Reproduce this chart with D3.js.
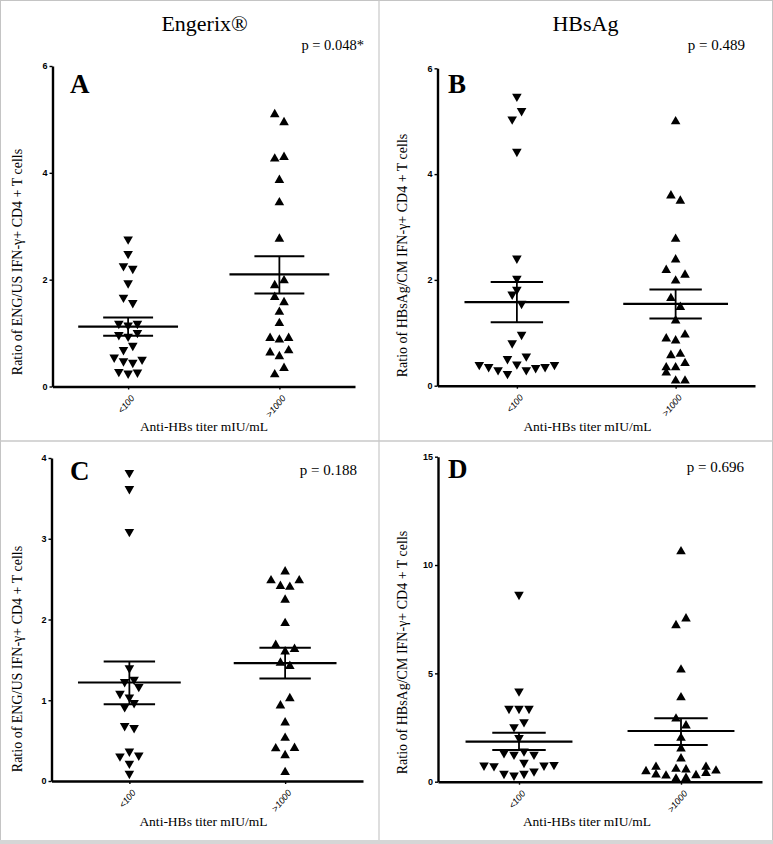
<!DOCTYPE html>
<html><head><meta charset="utf-8">
<script src="https://cdn.jsdelivr.net/npm/d3@7"></script>
<style>body{margin:0;background:#fff} svg{display:block}</style>
</head><body>
<svg id="c" width="773" height="844"></svg>
<script>
// ---------- DATA ----------
const categories = ["<100", ">1000"];
const titles = ["Engerix\u00ae", "HBsAg"];
const panelLetters = ["A", "B", "C", "D"];
const pValues = ["p = 0.048*", "p = 0.489", "p = 0.188", "p = 0.696"];
const yLabelENG = "Ratio of ENG/US IFN-\u03b3+ CD4 + T cells";
const yLabelHBs = "Ratio of HBsAg/CM IFN-\u03b3+ CD4 + T cells";
const xTitle = "Anti-HBs titer mIU/mL";

const ticksA = [0, 2, 4, 6];
const ticksB = [0, 2, 4, 6];
const ticksC = [0, 1, 2, 3, 4];
const ticksD = [0, 5, 10, 15];

// values grouped in rows of side-by-side points (null = empty slot)
const A_low  = [[2.73],[2.46],[2.23,2.18],[1.91],[1.64,1.54],[1.15,1.12,1.15],[0.94,0.91,0.98],[0.66,0.74],[0.52,0.45,0.42,0.48],[0.25,0.22,0.24]];
const A_high = [[5.12,4.97],[4.29,4.32],[3.89],[3.47],[2.79],[1.92,2.01],[1.70,1.60],[1.42],[1.21],[0.93,0.90,0.93],[0.66,0.59,0.70],[0.25,0.37]];
const B_low  = [[5.44],[5.01,5.17],[4.40],[2.38],[2.00],[1.79],[1.70,1.525],[0.78,0.94],[0.48,null,0.53],[0.37,0.33,0.27,0.20,0.38,0.27,0.31,0.33,0.37]];
const B_high = [[5.02],[3.62,3.52],[2.80],[2.41],[2.21,2.01,2.12],[1.68,1.51],[1.255],[0.915,0.877,0.99],[0.60,0.625],[0.37,0.37,0.45],[0.27,0.12,0.12]];
const C_low  = [[3.80],[3.60],[3.07],[1.38],[1.21,1.24],[1.065,1.02,1.15],[0.90,0.95],[0.665,0.64],[0.29,0.35,0.30],[0.20],[0.075]];
const C_high = [[2.61],[2.50,2.43,2.42,2.50],[2.26],[1.97],[1.70,1.62,1.65],[1.48,1.44],[0.95,1.04],[0.74],[0.55],[0.42,0.335,0.425],[0.125]];
const D_low  = [[8.57],[4.11],[3.31,3.31,3.31],[2.46,2.69],[1.96],[1.26,1.19,1.34,1.19],[0.69,0.66,null,null,0.82,null,0.69,0.72],[0.31,0.23,0.31,0.42]];
const D_high = [[10.69],[7.28,7.59],[5.23],[3.95],[2.97,2.65],[2.08],[1.59],[1.13],[0.54,0.74,null,0.65,0.62,null,0.74,0.57],[null,0.39,0.34,null,null,0.355,0.46,null],[0.20,0.23]];

// mean and SEM limits [<100, >1000]
const meanA = [1.12, 2.10],  semHiA = [1.29, 2.44], semLoA = [0.95, 1.74];
const meanB = [1.58, 1.545], semHiB = [1.96, 1.82], semLoB = [1.20, 1.27];
const meanC = [1.22, 1.46],  semHiC = [1.48, 1.65], semLoC = [0.95, 1.27];
const meanD = [1.85, 2.34],  semHiD = [2.26, 2.93], semLoD = [1.46, 1.69];

// ---------- LAYOUT ----------
const SERIF = "'Liberation Serif','Times New Roman',serif";
const SANS = "'Liberation Sans',Arial,sans-serif";

const panels = [
  {letter:panelLetters[0], p:pValues[0], ylab:yLabelENG, ticks:ticksA, groups:[A_low,A_high], mean:meanA, hi:semHiA, lo:semLoA,
   x0:52.5, x1:355, yTop:66, yBot:386.5, sp:9.3,
   title:titles[0], titlePos:[204.6,31], pPos:[364,50,14.5], letterPos:[70,92.7], ylabPos:[21.5,262], xtPos:[204,431]},
  {letter:panelLetters[1], p:pValues[1], ylab:yLabelHBs, ticks:ticksB, groups:[B_low,B_high], mean:meanB, hi:semHiB, lo:semLoB,
   x0:437.5, x1:755, yTop:68.3, yBot:385.7, sp:9.4,
   title:titles[1], titlePos:[585.5,31], pPos:[745,50,15], letterPos:[448,92.7], ylabPos:[407,255.5], xtPos:[587.5,431]},
  {letter:panelLetters[2], p:pValues[2], ylab:yLabelENG, ticks:ticksC, groups:[C_low,C_high], mean:meanC, hi:semHiC, lo:semLoC,
   x0:51.5, x1:363, yTop:458, yBot:781, sp:9.4,
   pPos:[357,475,15], letterPos:[70,480], ylabPos:[21.5,659], xtPos:[203.5,826]},
  {letter:panelLetters[3], p:pValues[3], ylab:yLabelHBs, ticks:ticksD, groups:[D_low,D_high], mean:meanD, hi:semHiD, lo:semLoD,
   x0:438, x1:762, yTop:456.7, yBot:781.7, sp:10,
   pPos:[744,472,15], letterPos:[448,478], ylabPos:[407,652.5], xtPos:[587,826]}
];

const svg = d3.select("#c");

// frame and dividers
svg.append("rect").attr("x",0.5).attr("y",0.5).attr("width",772).attr("height",843)
  .attr("fill","none").attr("stroke","#c4c4c4").attr("stroke-width",1);
svg.append("rect").attr("x",0).attr("y",840).attr("width",773).attr("height",4).attr("fill","#d6d6d6");
svg.append("line").attr("x1",379).attr("x2",379).attr("y1",0).attr("y2",840)
  .attr("stroke","#c8c8c8").attr("stroke-width",1.2);
svg.append("line").attr("x1",0).attr("x2",773).attr("y1",441).attr("y2",441)
  .attr("stroke","#c8c8c8").attr("stroke-width",1.6);

const TW = 9.6, TH = 8.4;
const upTri = `M0,${-TH/2}L${TW/2},${TH/2}L${-TW/2},${TH/2}Z`;
const downTri = `M${-TW/2},${-TH/2}L${TW/2},${-TH/2}L0,${TH/2}Z`;

panels.forEach(P => {
  const g = svg.append("g");
  const y = d3.scaleLinear().domain([0, d3.max(P.ticks)]).range([P.yBot, P.yTop]);
  const x = d3.scalePoint().domain(categories).range([P.x0, P.x1]).padding(0.5);
  const step = x.step();

  // y axis
  const ya = g.append("g").attr("transform",`translate(${P.x0},0)`)
    .call(d3.axisLeft(y).tickValues(P.ticks).tickFormat(d3.format("d")).tickSize(3).tickSizeOuter(0).tickPadding(2));
  ya.select(".domain").attr("stroke","#000").attr("stroke-width",2.4);
  ya.selectAll(".tick line").attr("stroke","#000").attr("stroke-width",1.4);
  ya.selectAll(".tick text").attr("font-family",SANS).attr("font-weight","bold").attr("font-size",9).attr("fill","#000");

  // x axis
  const xa = g.append("g").attr("transform",`translate(0,${P.yBot})`)
    .call(d3.axisBottom(x).tickSize(3).tickSizeOuter(0));
  xa.select(".domain").attr("stroke","#000").attr("stroke-width",2.6);
  xa.selectAll(".tick line").attr("stroke","#000").attr("stroke-width",1.4);
  xa.selectAll(".tick text").attr("font-family",SANS).attr("font-style","italic").attr("font-size",9).attr("fill","#000")
    .attr("x",0).attr("y",0).attr("dy","0.35em")
    .attr("transform","translate(4,10) rotate(-50)").style("text-anchor","end");

  // points
  P.groups.forEach((rows, gi) => {
    const cx = x(categories[gi]);
    const pts = [];
    rows.forEach(row => {
      const n = row.length;
      row.forEach((v, i) => { if (v !== null) pts.push({v, dx:(i-(n-1)/2)*P.sp}); });
    });
    g.append("g").selectAll("path").data(pts).join("path")
      .attr("d", gi === 0 ? downTri : upTri)
      .attr("transform", d => `translate(${cx + d.dx},${y(d.v)})`)
      .attr("fill","#000");

    // mean ± SEM
    const eb = g.append("g").attr("stroke","#000").attr("fill","none");
    eb.append("line").attr("x1",cx-0.33*step).attr("x2",cx+0.33*step)
      .attr("y1",y(P.mean[gi])).attr("y2",y(P.mean[gi])).attr("stroke-width",2.2);
    [P.hi[gi], P.lo[gi]].forEach(v => {
      eb.append("line").attr("x1",cx-0.165*step).attr("x2",cx+0.165*step)
        .attr("y1",y(v)).attr("y2",y(v)).attr("stroke-width",2);
    });
    eb.append("line").attr("x1",cx).attr("x2",cx).attr("y1",y(P.lo[gi])).attr("y2",y(P.hi[gi])).attr("stroke-width",1.8);
  });

  // texts
  if (P.title) g.append("text").attr("x",P.titlePos[0]).attr("y",P.titlePos[1]).attr("text-anchor","middle")
    .attr("font-family",SERIF).attr("font-size",22).text(P.title);
  g.append("text").attr("x",P.pPos[0]).attr("y",P.pPos[1]).attr("text-anchor","end")
    .attr("font-family",SERIF).attr("font-size",P.pPos[2]).text(P.p);
  g.append("text").attr("x",P.letterPos[0]).attr("y",P.letterPos[1])
    .attr("font-family",SERIF).attr("font-weight","bold").attr("font-size",27).text(P.letter);
  g.append("text").attr("transform",`translate(${P.ylabPos[0]},${P.ylabPos[1]}) rotate(-90)`).attr("text-anchor","middle")
    .attr("font-family",SERIF).attr("font-size",14).text(P.ylab);
  g.append("text").attr("x",P.xtPos[0]).attr("y",P.xtPos[1]).attr("text-anchor","middle")
    .attr("font-family",SERIF).attr("font-size",13.5).text(xTitle);
});
</script>
</body></html>
